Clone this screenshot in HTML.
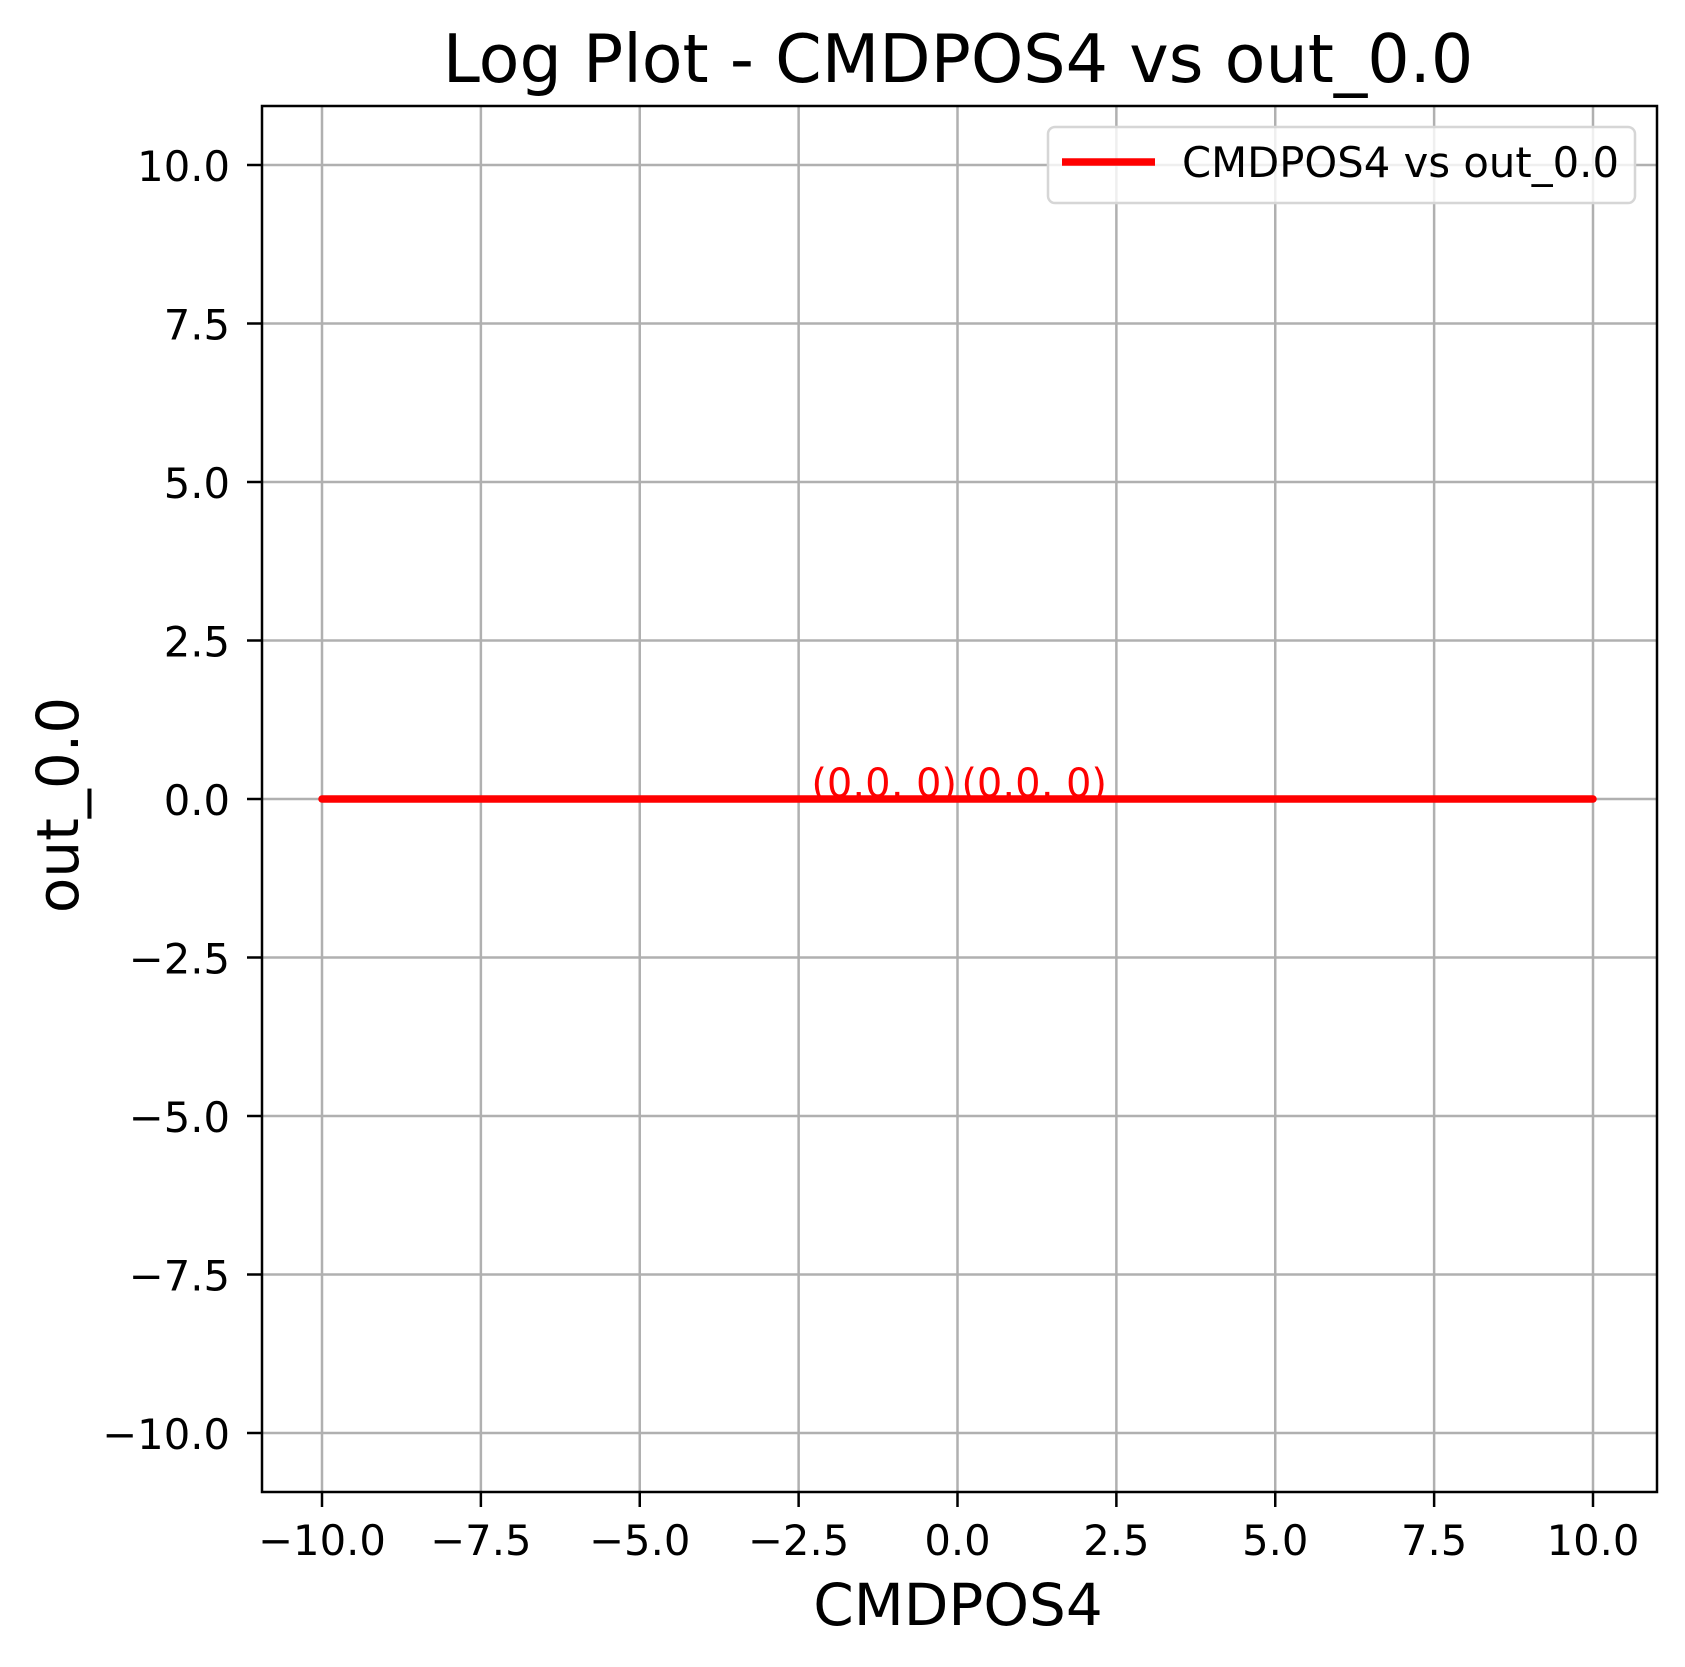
<!DOCTYPE html>
<html><head><meta charset="utf-8"><style>
html,body{margin:0;padding:0;background:#fff;}
svg{display:block;font-family:"DejaVu Sans","Liberation Sans",sans-serif;}
</style></head><body>
<svg id="chart" width="1685" height="1667" viewBox="0 0 1685 1667">
<rect width="1685" height="1667" fill="#fff"/>
<g id="grid"></g>
<g id="series"></g>
<g id="ticks"></g>
<rect x="262" y="106" width="1395" height="1386" fill="none" stroke="#000" stroke-width="2.5"/>
<text x="958" y="82" font-size="66.7" text-anchor="middle">Log Plot - CMDPOS4 vs out_0.0</text>
<text x="958" y="1625" font-size="58" text-anchor="middle">CMDPOS4</text>
<text x="78" y="805" font-size="58" text-anchor="middle" transform="rotate(-90 78 805)">out_0.0</text>
<g>
<rect x="1048" y="127" width="587" height="76" rx="7" fill="#fff" fill-opacity="0.8" stroke="#d6d6d6" stroke-width="2.5"/>
<line x1="1062" y1="162" x2="1155" y2="162" stroke="#ff0000" stroke-width="7.5"/>
<text x="1182" y="177" font-size="41.7" textLength="437">CMDPOS4 vs out_0.0</text>
</g>
</svg>
<script>
const xValues = [-10, 0, 10];
const yValues = [0, 0, 0];
const xTicks = [-10, -7.5, -5, -2.5, 0, 2.5, 5, 7.5, 10];
const yTicks = [-10, -7.5, -5, -2.5, 0, 2.5, 5, 7.5, 10];
const annotations = [{x: -2.3, y: 0, label: "(0.0, 0)"}, {x: 0.06, y: 0, label: "(0.0, 0)"}];

const NS = "http://www.w3.org/2000/svg";
const L = 262, R = 1657, T = 106, B = 1492;
const xs = v => 957.5 + v * 63.55;
const ys = v => 799 - v * 63.4;
function mk(tag, attrs, parent) {
  const e = document.createElementNS(NS, tag);
  for (const k in attrs) e.setAttribute(k, attrs[k]);
  parent.appendChild(e);
  return e;
}
const fmt = v => (v < 0 ? "\u2212" : "") + Math.abs(v).toFixed(1);
const grid = document.getElementById("grid");
const ticks = document.getElementById("ticks");
const series = document.getElementById("series");

xTicks.forEach(v => {
  const x = xs(v);
  const g = mk("line", {x1: x, x2: x, y1: T, y2: B, stroke: "#b0b0b0", "stroke-width": 2.5}, grid);
  
  
  const t = mk("line", {x1: x, x2: x, y1: B, y2: B + 15, stroke: "#000", "stroke-width": 2.5}, ticks);
  
  
  const lb = mk("text", {x: x, y: 1555, "font-size": 41.7, "text-anchor": "middle"}, ticks);
  lb.textContent = fmt(v);
  
  
});
yTicks.forEach(v => {
  const y = ys(v);
  const g = mk("line", {x1: L, x2: R, y1: y, y2: y, stroke: "#b0b0b0", "stroke-width": 2.5}, grid);
  
  
  const t = mk("line", {x1: L - 15, x2: L, y1: y, y2: y, stroke: "#000", "stroke-width": 2.5}, ticks);
  
  
  const lb = mk("text", {x: 230, y: y + 16, "font-size": 41.7, "text-anchor": "end"}, ticks);
  lb.textContent = fmt(v);
  
  
});
const pts = xValues.map((v, i) => xs(v) + "," + ys(yValues[i])).join(" ");
const line = mk("polyline", {points: pts, fill: "none", stroke: "#ff0000", "stroke-width": 7.5, "stroke-linecap": "round"}, series);


annotations.forEach(a => {
  const t = mk("text", {x: xs(a.x), y: ys(a.y) - 2, "font-size": 40, fill: "#ff0000"}, series);
  t.textContent = a.label;
  
  
});
</script>
</body></html>
